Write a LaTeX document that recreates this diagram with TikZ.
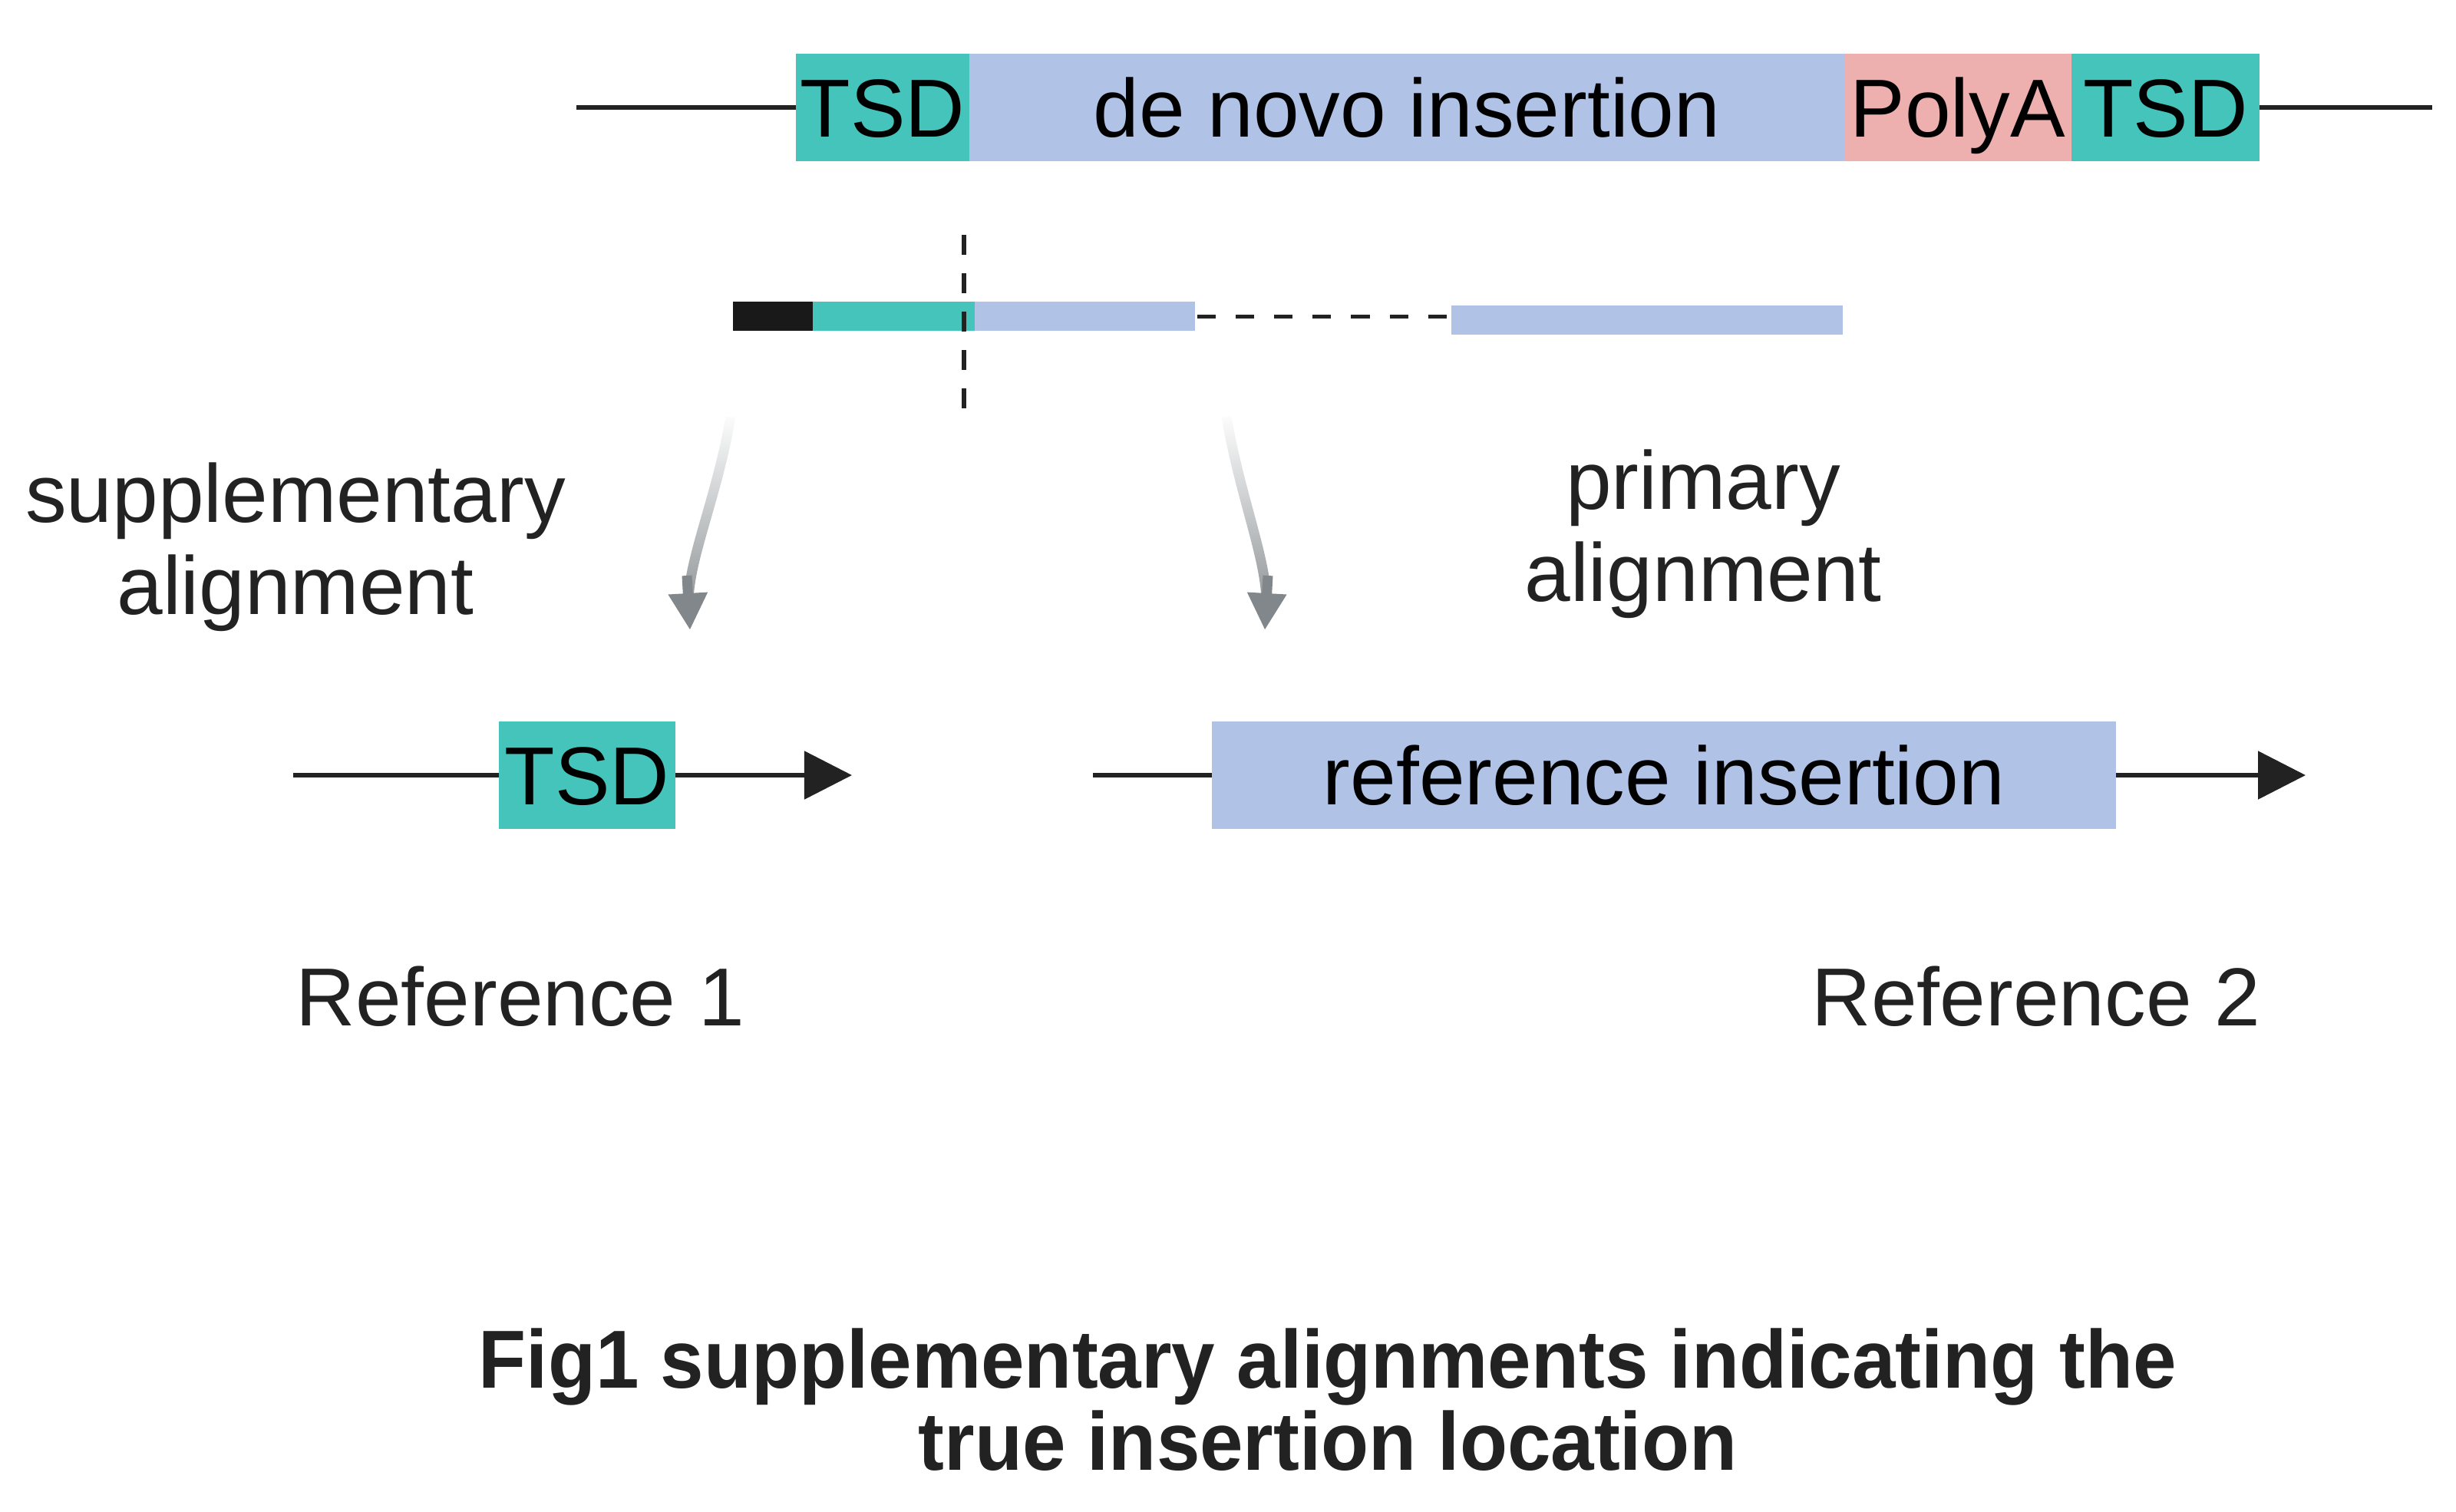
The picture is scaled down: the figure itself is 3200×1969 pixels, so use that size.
\documentclass[tikz,border=0pt]{standalone}
\usepackage{fontspec}
\setmainfont{Liberation Sans}
\newfontfamily\figcapfont{Liberation Sans}[FakeStretch=0.947]
\usetikzlibrary{arrows.meta,fadings}

\definecolor{tsdcol}{HTML}{45C4BC}
\definecolor{inscol}{HTML}{B0C3E6}
\definecolor{polycol}{HTML}{EEAFAF}
\definecolor{clipcol}{HTML}{191919}
\definecolor{inkcol}{HTML}{222222}
\definecolor{mapgray}{HTML}{81878A}

\tikzfading[name=fadetop, top color=transparent!100, middle color=transparent!0, bottom color=transparent!0]

\tikzset{
  seg/.style={rectangle, inner sep=0pt, outer sep=0pt, minimum height=1.4cm,
    text height=0.77cm, text depth=0cm, text=black},
  readpart/.style={rectangle, inner sep=0pt, outer sep=0pt, minimum height=0.38cm},
  lbl/.style={inner sep=0pt, text=inkcol, align=center},
  backbone/.style={draw=inkcol, line width=0.055cm},
  refline/.style={backbone, -{Triangle[length=0.62cm, width=0.62cm]}},
  cutline/.style={draw=inkcol, line width=0.06cm, dash pattern=on 0.26cm off 0.24cm},
  gapline/.style={draw=inkcol, line width=0.05cm, dash pattern=on 0.24cm off 0.26cm, dash phase=-0.03cm},
  mapto/.style={draw=mapgray, line width=0.13cm, path fading=fadetop, shorten >=0.3cm},
  maptip/.style={draw=mapgray, line width=0.13cm, -{Triangle[length=0.48cm, width=0.48cm]}},
}

\begin{document}
\begin{tikzpicture}
  [x=0.01cm, y=-0.01cm, font=\fontsize{30.5pt}{34pt}\selectfont]
  \path[use as bounding box, fill=white] (0,0) rectangle (3200,1969);

  % insertion in the sample
  \node[seg, fill=tsdcol, minimum width=2.26cm] (tsdL) at (1150,140) {TSD};
  \node[seg, fill=inscol, minimum width=11.39cm, anchor=west] (denovo) at (tsdL.east) {de novo insertion};
  \node[seg, fill=polycol, minimum width=2.96cm, anchor=west] (polyA) at (denovo.east) {PolyA};
  \node[seg, fill=tsdcol, minimum width=2.45cm, anchor=west] (tsdR) at (polyA.east) {TSD};
  \coordinate (topL) at (751,140);
  \coordinate (topR) at (3169,140);

  % the read
  \node[readpart, fill=clipcol, minimum width=1.04cm, anchor=west] (rdclip) at (955,412) {};
  \node[readpart, fill=tsdcol, minimum width=2.11cm, anchor=west] (rdtsd) at (rdclip.east) {};
  \node[readpart, fill=inscol, minimum width=2.87cm, anchor=west] (rdins) at (rdtsd.east) {};
  \node[readpart, fill=inscol, minimum width=5.10cm] (rdprim) at (2146,417) {};
  \draw[gapline] (rdins.east) -- (rdprim.west |- rdins.east);
  \coordinate (cutT) at (1256,306);
  \coordinate (cutB) at (1256,532);
  \draw[cutline] (cutT) -- (cutB);

  % alignments
  \coordinate (suppS) at (952,543);
  \coordinate (suppH) at (895,750);
  \coordinate (suppE) at (899,821);
  \coordinate (primS) at (1598,543);
  \coordinate (primH) at (1652,750);
  \coordinate (primE) at (1648,821);
  \draw[mapto] (suppS) .. controls (934,650) and (894,735) .. (suppE);
  \draw[maptip] (suppH) -- (suppE);
  \draw[mapto] (primS) .. controls (1616,650) and (1653,735) .. (primE);
  \draw[maptip] (primH) -- (primE);
  \node[lbl, anchor=base] (suppLbl) at (385,800) {supplementary\\alignment};
  \node[lbl, anchor=base] (primLbl) at (2219,783) {primary\\alignment};

  % references
  \node[seg, fill=tsdcol, minimum width=2.29cm] (refTSD) at (765,1010) {TSD};
  \node[seg, fill=inscol, minimum width=11.77cm] (refIns) at (2168,1010) {reference insertion};
  \coordinate (ref1L) at (382,1010);
  \coordinate (ref1R) at (1110,1010);
  \coordinate (ref2L) at (1424,1010);
  \coordinate (ref2R) at (3004,1010);
  \node[lbl, anchor=base] (ref1) at (678,1336) {Reference 1};
  \node[lbl, anchor=base] (ref2) at (2653,1336) {Reference 2};

  \foreach \from/\to in {topL/tsdL,tsdR/topR,ref1L/refTSD,ref2L/refIns}
  \draw[backbone] (\from) -- (\to);
  \foreach \from/\to in {refTSD/ref1R,refIns/ref2R}
  \draw[refline] (\from) -- (\to);

  \node[lbl, anchor=base, font=\figcapfont\bfseries\fontsize{30.5pt}{30.2pt}\selectfont]
    (figcap) at (1730,1915) {Fig1 supplementary alignments indicating the\\true insertion location};
\end{tikzpicture}
\end{document}
